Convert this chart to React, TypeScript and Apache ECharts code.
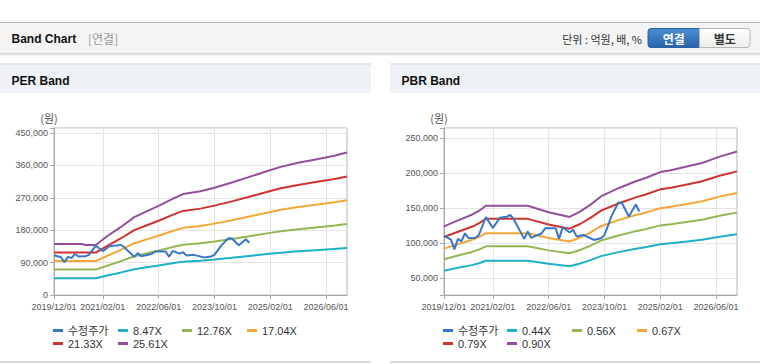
import React, { useEffect, useRef } from 'react';
import * as echarts from 'echarts';

// ---------- categories (monthly, 2019/12 .. 2026/12) ----------
const months: string[] = [];
for (let i = 0; i <= 84; i++) {
  const t = 11 + i;
  months.push(`${2019 + Math.floor(t / 12)}/${String((t % 12) + 1).padStart(2, '0')}/01`);
}

// ---------- PER band ----------
const perMonths = ['2019/12/01', '2020/08/01', '2020/09/01', '2020/12/01', '2021/03/01', '2021/07/01', '2021/11/01', '2022/03/01', '2022/06/01', '2022/10/01', '2023/01/01', '2023/06/01', '2023/10/01', '2024/03/01', '2024/08/01', '2025/01/01', '2025/05/01', '2025/10/01', '2026/03/01', '2026/08/01', '2026/12/01'];
const per847 = [46800, 46800, 46800, 46800, 53500, 62100, 71600, 77500, 81900, 88300, 92700, 95300, 98600, 103300, 108500, 113700, 117700, 121500, 124600, 127700, 130900];
const per1276 = [70600, 70600, 70600, 70600, 80600, 93500, 107800, 116800, 123400, 133100, 139700, 143600, 148500, 155700, 163500, 171200, 177400, 183000, 187700, 192400, 197100];
const per1704 = [94200, 94200, 94200, 94200, 107700, 124900, 144000, 155900, 164800, 177700, 186600, 191700, 198300, 207900, 218300, 228700, 236900, 244400, 250700, 257000, 263300];
const per2133 = [118000, 118000, 118000, 118000, 134800, 156300, 180200, 195200, 206300, 222500, 233600, 240000, 248300, 260200, 273200, 286200, 296500, 305900, 313800, 321700, 329500];
const per2561 = [141600, 141600, 138800, 138800, 161900, 187700, 216400, 234300, 247600, 267100, 280400, 288100, 298100, 312400, 328100, 343700, 356000, 367300, 376700, 386200, 395700];

// ---------- PBR band ----------
const pbrMonths = ['2019/12/01', '2020/04/01', '2020/08/01', '2020/10/01', '2020/12/01', '2021/12/01', '2022/06/01', '2022/12/01', '2023/03/01', '2023/06/01', '2023/09/01', '2024/02/01', '2024/07/01', '2024/10/01', '2025/02/01', '2025/05/01', '2025/09/01', '2026/02/01', '2026/07/01', '2026/12/01'];
const pbr044 = [60500, 64700, 68600, 71300, 74900, 74900, 70400, 67100, 70800, 75700, 81400, 87100, 92000, 94400, 98300, 99700, 101900, 104700, 109100, 112600];
const pbr056 = [77000, 82300, 87400, 90700, 95400, 95400, 89600, 85400, 90200, 96300, 103600, 110900, 117000, 120100, 125200, 126800, 129600, 133300, 138900, 143400];
const pbr067 = [92100, 98500, 104500, 108500, 114100, 114100, 107200, 102200, 107900, 115200, 124000, 132700, 140000, 143700, 149700, 151800, 155100, 159500, 166200, 171500];
const pbr079 = [108600, 116100, 123200, 128000, 134500, 134500, 126400, 120500, 127200, 135900, 146200, 156400, 165100, 169500, 176600, 178900, 182900, 188000, 195900, 202200];
const pbr090 = [123800, 132300, 140400, 145800, 153300, 153300, 144000, 137300, 144900, 154800, 166500, 178200, 188100, 193100, 201200, 203900, 208400, 214200, 223200, 230400];

// ---------- adjusted price (수정주가) ----------
const priceMonths = ['2019/12/01', '2020/02/01', '2020/03/01', '2020/04/01', '2020/05/01', '2020/06/01', '2020/07/01', '2020/09/01', '2020/10/01', '2020/12/01', '2021/02/01', '2021/04/01', '2021/06/01', '2021/07/01', '2021/08/01', '2021/11/01', '2021/12/01', '2022/01/01', '2022/02/01', '2022/04/01', '2022/05/01', '2022/08/01', '2022/09/01', '2022/10/01', '2022/12/01', '2023/01/01', '2023/02/01', '2023/04/01', '2023/07/01', '2023/09/01', '2023/10/01', '2023/11/01', '2023/12/01', '2024/02/01', '2024/03/01', '2024/05/01', '2024/07/01', '2024/08/01'];
const priceValues = [110500, 105000, 91000, 106000, 102500, 114000, 107000, 107500, 111500, 137000, 121500, 136000, 137500, 140000, 134000, 106000, 116500, 107500, 109500, 114000, 121000, 121000, 106000, 122500, 115000, 119000, 109500, 111500, 104500, 107000, 111500, 124500, 138000, 158000, 157000, 138000, 155000, 145000];

const perNames = ['8.47X', '12.76X', '17.04X', '21.33X', '25.61X'];
const pbrNames = ['0.44X', '0.56X', '0.67X', '0.79X', '0.90X'];
const priceName = '수정주가';

const C_PRICE = '#3b76c6';
const BAND_COLORS = ['#1eb0c6', '#93b655', '#f4a636', '#cf3330', '#934f9c'];

const FONT = '"Liberation Sans", Arial, "Noto Sans CJK KR", sans-serif';
const KFONT = '"Noto Sans CJK KR", "Liberation Sans", sans-serif';

const labelShow = (i: number) => i === 0 || i % 16 === 14;
const splitShow = (i: number) => i % 16 === 14;

function xAxisFor(gridIndex: number) {
  return {
    type: 'category',
    gridIndex,
    data: months,
    boundaryGap: false,
    axisLine: { lineStyle: { color: '#a8a8a8' } },
    axisTick: { show: true, interval: labelShow, length: 4, lineStyle: { color: '#a8a8a8' } },
    axisLabel: { interval: labelShow, color: '#555', fontSize: 9, fontFamily: FONT, margin: 7 },
    splitLine: { show: true, interval: splitShow, lineStyle: { color: '#e4e4e4' } },
  };
}

function yAxisFor(gridIndex: number, extra: any, step: number) {
  return {
    type: 'value',
    gridIndex,
    ...extra,
    name: '(원)',
    nameLocation: 'end',
    nameGap: 5,
    nameTextStyle: { color: '#555', fontSize: 11, fontFamily: KFONT, padding: [0, 10, 0, 0] },
    axisLine: { show: true, lineStyle: { color: '#a8a8a8' } },
    axisTick: { show: true, length: 4, lineStyle: { color: '#a8a8a8' } },
    axisLabel: {
      color: '#555', fontSize: 9, fontFamily: FONT, margin: 6,
      formatter: (v: number) => (v % step === 0 ? v.toLocaleString('en-US') : ''),
    },
    splitLine: { show: true, lineStyle: { color: '#e4e4e4' } },
  };
}

function lineSeries(name: string, ms: string[], vals: number[], color: string, idx: number, z = 2) {
  return {
    type: 'line',
    name,
    xAxisIndex: idx,
    yAxisIndex: idx,
    data: ms.map((m, k) => [m, vals[k]]),
    symbol: 'none',
    showSymbol: false,
    z,
    lineStyle: { width: 2, color },
    itemStyle: { color },
    emphasis: { disabled: true },
  };
}

function legendItem(name: string, left: number, top: number) {
  return {
    data: [name],
    left,
    top,
    padding: 0,
    icon: 'rect',
    itemWidth: 10,
    itemHeight: 3,
    selectedMode: false,
    textStyle: { color: '#333', fontSize: 11, fontFamily: FONT, lineHeight: 13 },
  };
}

export default function App() {
  const ref = useRef<HTMLDivElement>(null);

  useEffect(() => {
    if (!ref.current) return;
    const chart = echarts.init(ref.current, null, { renderer: 'svg' });

    const blueGrad = new echarts.graphic.LinearGradient(0, 0, 0, 1, [
      { offset: 0, color: '#4b8ed5' },
      { offset: 1, color: '#2863aa' },
    ]);
    const whiteGrad = new echarts.graphic.LinearGradient(0, 0, 0, 1, [
      { offset: 0, color: '#ffffff' },
      { offset: 1, color: '#ececec' },
    ]);

    const graphics: any[] = [
      // top header bar
      { type: 'rect', silent: true, shape: { x: 0, y: 22, width: 760, height: 1 }, style: { fill: '#b9b9b9' } },
      { type: 'rect', silent: true, shape: { x: 0, y: 23, width: 760, height: 30 }, style: { fill: '#f4f4f4' } },
      { type: 'rect', silent: true, shape: { x: 0, y: 53, width: 760, height: 1 }, style: { fill: '#d2d2d2' } },
      { type: 'rect', silent: true, shape: { x: 0, y: 54, width: 760, height: 1 }, style: { fill: '#e4e4e4' } },
      { type: 'rect', silent: true, shape: { x: 0, y: 55, width: 760, height: 1 }, style: { fill: '#f2f2f2' } },
      { type: 'text', x: 11.5, y: 38.5, style: { text: 'Band Chart', fill: '#111', fontSize: 12, fontWeight: 'bold', fontFamily: FONT, verticalAlign: 'middle' } },
      { type: 'text', x: 88, y: 38.5, style: { text: '[연결]', fill: '#9a9a9a', fontSize: 12, fontFamily: KFONT, verticalAlign: 'middle' } },
      { type: 'text', x: 642, y: 39, style: { text: '단위 : 억원, 배, %', fill: '#333', fontSize: 11, fontFamily: KFONT, align: 'right', verticalAlign: 'middle' } },
      // buttons
      { type: 'rect', shape: { x: 648, y: 28.5, width: 51.5, height: 19, r: [3, 0, 0, 3] }, style: { fill: blueGrad, stroke: '#2a62a6', lineWidth: 1 } },
      { type: 'text', x: 673.7, y: 38.5, style: { text: '연결', fill: '#fff', fontSize: 12, fontWeight: 'bold', fontFamily: KFONT, align: 'center', verticalAlign: 'middle' } },
      { type: 'rect', shape: { x: 699.5, y: 28.5, width: 50.5, height: 19, r: [0, 3, 3, 0] }, style: { fill: whiteGrad, stroke: '#b8b8b8', lineWidth: 1 } },
      { type: 'text', x: 724.7, y: 38.5, style: { text: '별도', fill: '#333', fontSize: 12, fontWeight: 'bold', fontFamily: KFONT, align: 'center', verticalAlign: 'middle' } },
      // panel headers
      { type: 'rect', silent: true, shape: { x: 0, y: 64, width: 371, height: 29 }, style: { fill: '#eef1f6' } },
      { type: 'rect', silent: true, shape: { x: 0, y: 63.5, width: 371, height: 1 }, style: { fill: '#d3d6db' } },
      { type: 'text', x: 11.5, y: 80.5, style: { text: 'PER Band', fill: '#111', fontSize: 12, fontWeight: 'bold', fontFamily: FONT, verticalAlign: 'middle' } },
      { type: 'rect', silent: true, shape: { x: 390, y: 64, width: 370, height: 29 }, style: { fill: '#eef1f6' } },
      { type: 'rect', silent: true, shape: { x: 390, y: 63.5, width: 370, height: 1 }, style: { fill: '#d3d6db' } },
      { type: 'text', x: 401.5, y: 80.5, style: { text: 'PBR Band', fill: '#111', fontSize: 12, fontWeight: 'bold', fontFamily: FONT, verticalAlign: 'middle' } },
      // panel bottoms
      { type: 'rect', silent: true, shape: { x: 0, y: 361, width: 371, height: 2 }, style: { fill: '#dadada' } },
      { type: 'rect', silent: true, shape: { x: 390, y: 361, width: 370, height: 2 }, style: { fill: '#dadada' } },
    ];

    const series: any[] = [];
    const perVals = [per847, per1276, per1704, per2133, per2561];
    const pbrVals = [pbr044, pbr056, pbr067, pbr079, pbr090];
    perNames.forEach((n, k) => series.push(lineSeries(n, perMonths, perVals[k], BAND_COLORS[k], 0)));
    pbrNames.forEach((n, k) => series.push(lineSeries(n, pbrMonths, pbrVals[k], BAND_COLORS[k], 1)));
    series.push(lineSeries(priceName, priceMonths, priceValues, C_PRICE, 0, 3));
    series.push(lineSeries(priceName, priceMonths, priceValues, C_PRICE, 1, 3));

    const colsL = [53, 118, 182, 247];
    const colsR = [443, 507, 572, 637];
    const row1 = 324;
    const row2 = 337;
    const legends: any[] = [];
    const leftNames = [priceName, ...perNames];
    const rightNames = [priceName, ...pbrNames];
    leftNames.forEach((n, k) => legends.push(legendItem(n, colsL[k % 4], k < 4 ? row1 : row2)));
    rightNames.forEach((n, k) => legends.push(legendItem(n, colsR[k % 4], k < 4 ? row1 : row2)));

    chart.setOption({
      animation: false,
      backgroundColor: '#ffffff',
      textStyle: { fontFamily: FONT },
      grid: [
        { left: 54, top: 128, width: 293, height: 167, show: true, borderColor: '#b4b4b4', borderWidth: 1, backgroundColor: 'transparent' },
        { left: 444, top: 128, width: 293, height: 167, show: true, borderColor: '#b4b4b4', borderWidth: 1, backgroundColor: 'transparent' },
      ],
      xAxis: [xAxisFor(0), xAxisFor(1)],
      yAxis: [
        yAxisFor(0, { min: 0, max: 464000, interval: 90000 }, 90000),
        yAxisFor(1, { min: 26000, max: 264000, splitNumber: 5 }, 50000),
      ],
      legend: legends,
      graphic: graphics,
      series,
    });

    return () => chart.dispose();
  }, []);

  return (
    <div
      ref={ref}
      style={{ position: 'absolute', left: 0, top: 0, width: 760, height: 364 }}
    />
  );
}
